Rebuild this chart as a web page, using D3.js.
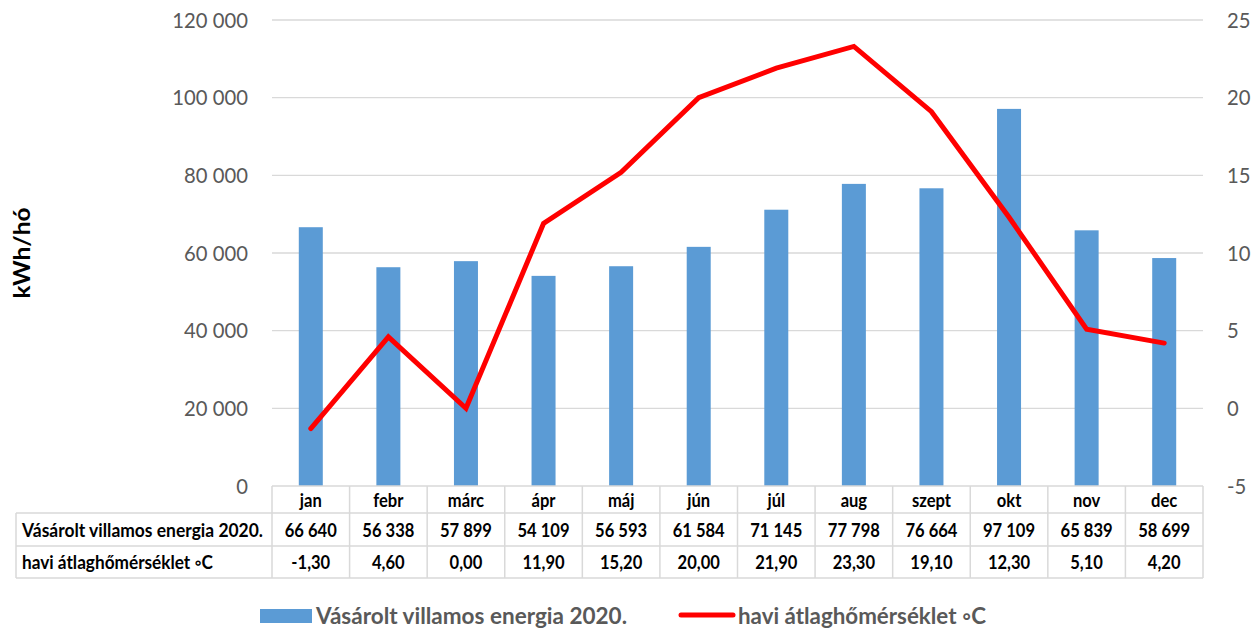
<!DOCTYPE html>
<html><head><meta charset="utf-8">
<script src="https://cdn.jsdelivr.net/npm/d3@7"></script>
<style>body{margin:0;background:#fff}svg{display:block}</style>
</head><body>
<svg id="c" width="1259" height="629"></svg>
<script>
const months = ["jan","febr","márc","ápr","máj","jún","júl","aug","szept","okt","nov","dec"];
const energy = [66640,56338,57899,54109,56593,61584,71145,77798,76664,97109,65839,58699];
const temps = [-1.3,4.6,0.0,11.9,15.2,20.0,21.9,23.3,19.1,12.3,5.1,4.2];
const leftTicks = [0,20000,40000,60000,80000,100000,120000];
const rightTicks = [-5,0,5,10,15,20,25];
const seriesNames = ["Vásárolt villamos energia 2020.","havi átlaghőmérséklet ◦C"];

const svg = d3.select("#c");
const font = "Lato, 'Open Sans', sans-serif";
const L = 272, R = 1203, T = 20, B = 486;
const x = d3.scaleBand().domain(months).range([L,R]);
const y = d3.scaleLinear().domain([0,120000]).range([B,T]);
const y2 = d3.scaleLinear().domain([-5,25]).range([B,T]);
const fmt = v => d3.format(",")(v).replace(/,/g," ");
const fmt2 = v => d3.format(".2f")(v).replace(".",",").replace("−","-");

function squeeze(sel, f){
  sel.each(function(){ const w = this.getComputedTextLength();
    d3.select(this).attr("textLength", w*f).attr("lengthAdjust","spacingAndGlyphs"); });
}
function fit(sel, w){ sel.attr("textLength", w).attr("lengthAdjust","spacingAndGlyphs"); }

// grid
svg.append("g").selectAll("line").data(leftTicks.slice(1)).join("line")
  .attr("x1",L).attr("x2",R).attr("y1",d=>y(d)).attr("y2",d=>y(d))
  .attr("stroke","#d9d9d9").attr("stroke-width",1.3);

// left axis
const ga = svg.append("g").attr("transform",`translate(${L-24},0)`)
  .call(d3.axisLeft(y).tickValues(leftTicks).tickFormat(fmt).tickSize(0).tickPadding(0));
ga.select(".domain").remove();
ga.selectAll("text").attr("font-family",font).attr("font-size",22).attr("fill","#595959");
squeeze(ga.selectAll("text"), 0.92);
// right axis
const gb = svg.append("g").attr("transform",`translate(${R+24},0)`)
  .call(d3.axisRight(y2).tickValues(rightTicks).tickFormat(d=>String(d).replace("−","-")).tickSize(0).tickPadding(0));
gb.select(".domain").remove();
gb.selectAll("text").attr("font-family",font).attr("font-size",22).attr("fill","#595959");
squeeze(gb.selectAll("text"), 0.92);

// y title
const yt = svg.append("text").attr("transform","translate(21,253) rotate(-90)").attr("text-anchor","middle")
  .attr("dominant-baseline","central")
  .attr("font-family",font).attr("font-size",23).attr("font-weight","bold").attr("fill","#000").text("kWh/hó");
fit(yt, 91);

// bars
const bw = 24;
svg.append("g").selectAll("rect").data(energy).join("rect")
  .attr("x",(d,i)=>x(months[i])+x.bandwidth()/2-bw/2).attr("width",bw)
  .attr("y",d=>y(d)).attr("height",d=>B-y(d)).attr("fill","#5b9bd5");

// line
svg.append("path").datum(temps)
  .attr("d",d3.line().x((d,i)=>x(months[i])+x.bandwidth()/2).y(d=>y2(d)))
  .attr("fill","none").attr("stroke","#ff0000").attr("stroke-width",5)
  .attr("stroke-linejoin","miter").attr("stroke-linecap","round");

// table
const rows = [B, 513, 546, 578];
const tl = 16;
const tg = svg.append("g");
const lc = "#d9d9d9";
tg.append("line").attr("x1",L).attr("x2",R).attr("y1",rows[0]).attr("y2",rows[0]).attr("stroke",lc).attr("stroke-width",1.5);
[1,2,3].forEach(k=>tg.append("line").attr("x1",tl).attr("x2",R).attr("y1",rows[k]).attr("y2",rows[k]).attr("stroke",lc).attr("stroke-width",1.5));
months.forEach((m,i)=>tg.append("line").attr("x1",x(m)).attr("x2",x(m)).attr("y1",rows[0]).attr("y2",rows[3]).attr("stroke",lc).attr("stroke-width",1.5));
tg.append("line").attr("x1",R).attr("x2",R).attr("y1",rows[0]).attr("y2",rows[3]).attr("stroke",lc).attr("stroke-width",1.5);
tg.append("line").attr("x1",tl).attr("x2",tl).attr("y1",rows[1]).attr("y2",rows[3]).attr("stroke",lc).attr("stroke-width",1.5);

const cellText = (txt, cx, cy, anchor) => tg.append("text").attr("x",cx).attr("y",cy)
  .attr("text-anchor",anchor||"middle").attr("dominant-baseline","central")
  .attr("font-family",font).attr("font-size",18).attr("font-weight","bold").attr("fill","#000").text(txt);
const cells = [];
months.forEach((m,i)=>{
  const cx = x(m)+x.bandwidth()/2;
  cells.push(cellText(m, cx, (rows[0]+rows[1])/2));
  cells.push(cellText(fmt(energy[i]), cx, (rows[1]+rows[2])/2));
  cells.push(cellText(fmt2(temps[i]), cx, (rows[2]+rows[3])/2));
});
cells.forEach(c=>squeeze(c, 0.92));
fit(cellText(seriesNames[0], 22, (rows[1]+rows[2])/2, "start"), 241);
fit(cellText(seriesNames[1], 22, (rows[2]+rows[3])/2, "start"), 191);

// legend
const lg = svg.append("g");
lg.append("rect").attr("x",260).attr("y",609).attr("width",52).attr("height",14).attr("fill","#5b9bd5");
fit(lg.append("text").attr("x",316).attr("y",615).attr("dominant-baseline","central")
  .attr("font-family",font).attr("font-size",22.5).attr("font-weight","bold").attr("fill","#595959").text(seriesNames[0]), 311);
lg.append("line").attr("x1",681).attr("x2",733).attr("y1",615).attr("y2",615).attr("stroke","#ff0000").attr("stroke-width",5).attr("stroke-linecap","round");
fit(lg.append("text").attr("x",738).attr("y",615).attr("dominant-baseline","central")
  .attr("font-family",font).attr("font-size",22.5).attr("font-weight","bold").attr("fill","#595959").text(seriesNames[1]), 248);
</script>
</body></html>
